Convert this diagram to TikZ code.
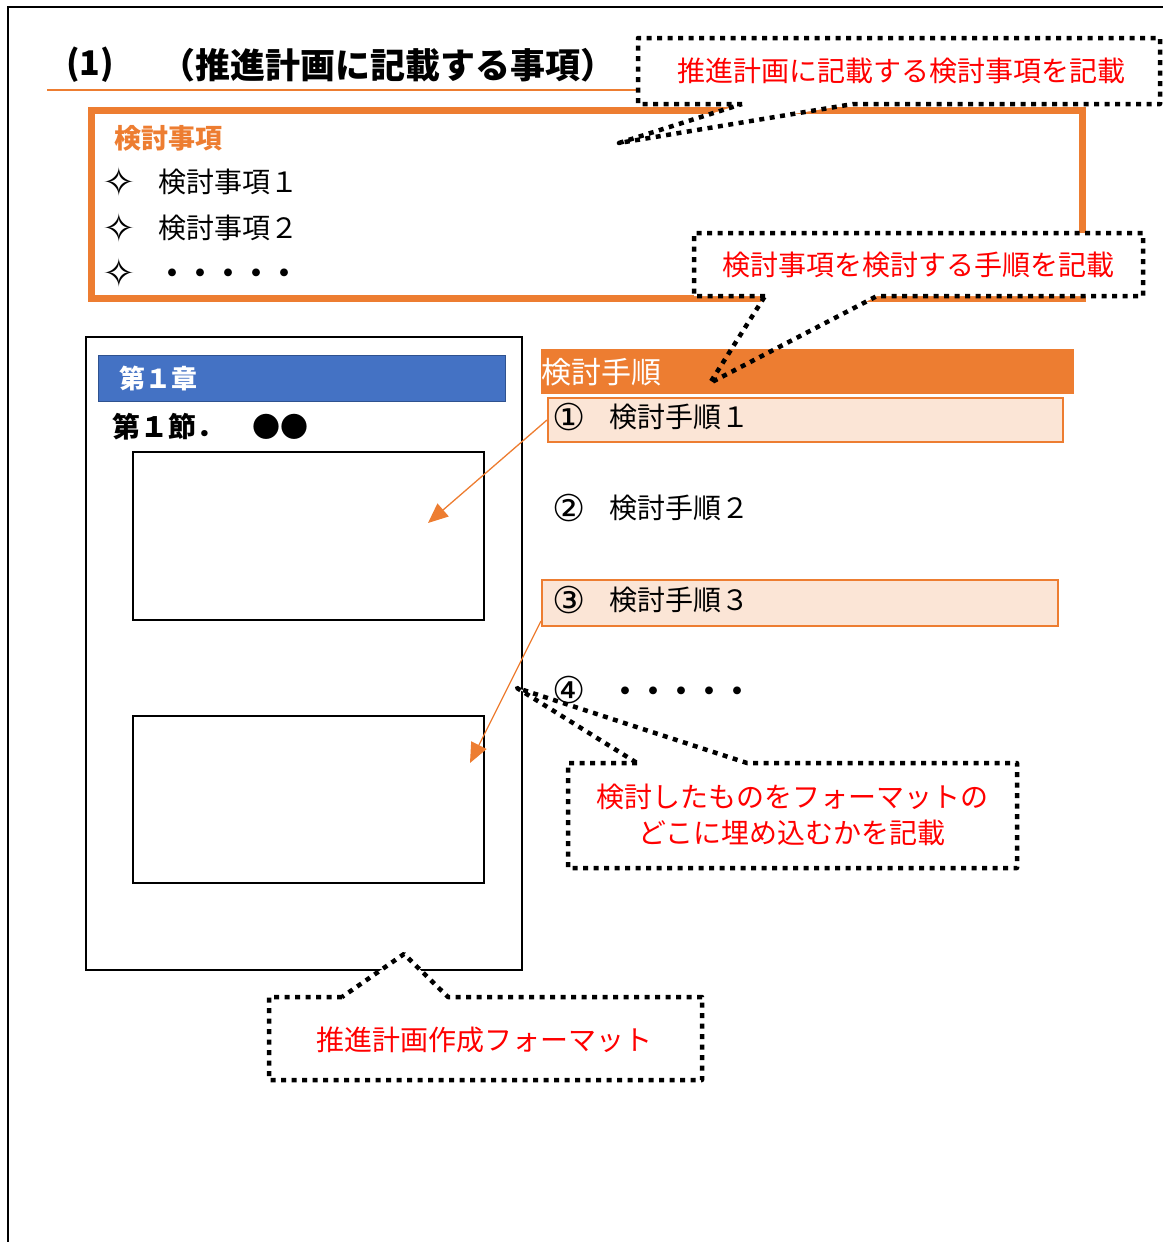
\documentclass[tikz,border=0pt]{standalone}
\usepackage{fontspec}
\setmainfont{Noto Sans CJK JP}
\newfontfamily\dvfont{DejaVu Sans}
\usetikzlibrary{arrows.meta}
\definecolor{org}{HTML}{ED7D31}
\definecolor{lorg}{HTML}{FBE5D6}
\definecolor{blu}{HTML}{4472C4}
\definecolor{dblu}{HTML}{2F528F}
\definecolor{rd}{HTML}{FF0000}
\begin{document}
\begin{tikzpicture}[x=1pt,y=-1pt,
  txt/.style={inner sep=0pt, anchor=west},
  note/.style={inner sep=0pt, text=rd, font=\fontsize{28}{36}\selectfont, align=center},
  calldraw/.style={draw=black, line width=4.5pt, dash pattern=on 5pt off 5.5pt, line join=round},
  arr/.style={draw=org, line width=1.3pt, -{Triangle[length=20pt,width=17pt]}, fill=org},
  rowbox/.style={fill=lorg, draw=org, line width=2pt, anchor=north west, inner sep=0pt},
  itemfont/.style={font=\fontsize{28}{34}\selectfont},
  circ/.style={inner sep=0pt, font=\dvfont\fontsize{37}{40}\selectfont},
  star/.style={inner sep=0pt, font=\dvfont\fontsize{40}{44}\selectfont},
]
\useasboundingbox (0,0) rectangle (1163,1242);
% outer frame
\draw[line width=2pt] (8,1242) -- (8,7) -- (1163,7);

% title
\node[txt, font=\bfseries\fontsize{34}{40}\selectfont] (tnum) at (66,65) {(1)};
\node[txt, font=\bfseries\fontsize{35}{40}\selectfont] (ttl) at (160,65) {（推進計画に記載する事項）};
\draw[org, line width=2.5pt] (47,90) -- (640,90);

% orange box of items
\draw[org, line width=7pt] (91.5,110.5) rectangle (1082.5,298.5);
\node[txt, text=org, font=\bfseries\fontsize{27}{32}\selectfont] (klabel) at (114,138) {検討事項};
\node[star] (s1) at (119,182) {✧};
\node[star] (s2) at (119,228) {✧};
\node[star] (s3) at (119,273) {✧};
\node[txt, itemfont] (i1) at (158,182) {検討事項１};
\node[txt, itemfont] (i2) at (158,228) {検討事項２};
\node[txt, font=\bfseries\fontsize{28}{34}\selectfont] (i3) at (158,276) {・・・・・};

% format
\draw[line width=2pt] (86,337) rectangle (522,970);
\draw[fill=blu, draw=dblu, line width=1pt] (98,355) rectangle (505,401);
\node[txt, text=white, font=\bfseries\fontsize{26}{30}\selectfont] (ch) at (119,378) {第１章};
\node[txt, font=\bfseries\fontsize{28}{32}\selectfont] (sec) at (112,427) {第１節．　●●};
\draw[line width=2pt] (133,452) rectangle (484,620);
\draw[line width=2pt] (133,716) rectangle (484,883);
\coordinate (tip1) at (428,523);
\coordinate (tip2) at (470,763);

% callout fills
\fill[white] (742,104) -- (638,104) -- (638,38) -- (1160,38) -- (1160,104) -- (853,104) -- (619,143) -- cycle;
\fill[white] (765,296) -- (694,296) -- (694,233) -- (1143,233) -- (1143,296) -- (877,296) -- (710,383) -- cycle;
\fill[white] (637,763) -- (568,763) -- (568,868) -- (1017,868) -- (1017,763) -- (747,763) -- (517,688) -- cycle;
\fill[white] (342,997) -- (269,997) -- (269,1080) -- (702,1080) -- (702,997) -- (448,997) -- (404,954) -- cycle;

% procedure list
\node[fill=org, anchor=north west, inner sep=0pt, minimum width=533pt, minimum height=45pt] (hdr) at (541,349) {};
\node[txt, text=white, font=\fontsize{30}{34}\selectfont] (hdrt) at (541,372) {検討手順};
\node[rowbox, minimum width=515pt, minimum height=44pt] (r1) at (547,397) {};
\node[rowbox, minimum width=516pt, minimum height=46pt] (r3) at (541,579) {};
\node[circ] (c1) at (569,417) {①};
\node[circ] (c2) at (569,508) {②};
\node[circ] (c3) at (569,600) {③};
\node[circ] (c4) at (569,690) {④};
\node[txt, itemfont] (p1) at (609,417) {検討手順１};
\node[txt, itemfont] (p2) at (609,508) {検討手順２};
\node[txt, itemfont] (p3) at (609,600) {検討手順３};
\node[txt, font=\bfseries\fontsize{28}{34}\selectfont] (p4) at (611,694) {・・・・・};

\draw[arr] (r1.west) -- (tip1);
\draw[arr] ([yshift=6pt]r3.south west) -- (tip2);

% callout strokes
\draw[calldraw] (742,104) -- (638,104) -- (638,38) -- (1160,38) -- (1160,104) -- (853,104) -- (619,143) -- cycle;
\draw[calldraw] (765,296) -- (694,296) -- (694,233) -- (1143,233) -- (1143,296) -- (877,296) -- (710,383) -- cycle;
\draw[calldraw] (637,763) -- (568,763) -- (568,868) -- (1017,868) -- (1017,763) -- (747,763) -- (517,688) -- cycle;
\draw[calldraw] (342,997) -- (269,997) -- (269,1080) -- (702,1080) -- (702,997) -- (448,997) -- (404,954) -- cycle;

\node[note] (n1) at (901,71) {推進計画に記載する検討事項を記載};
\node[note] (n2) at (918,265) {検討事項を検討する手順を記載};
\node[note] (n3) at (792,815) {検討したものをフォーマットの\\どこに埋め込むかを記載};
\node[note] (n4) at (484,1040) {推進計画作成フォーマット};
\end{tikzpicture}
\end{document}
